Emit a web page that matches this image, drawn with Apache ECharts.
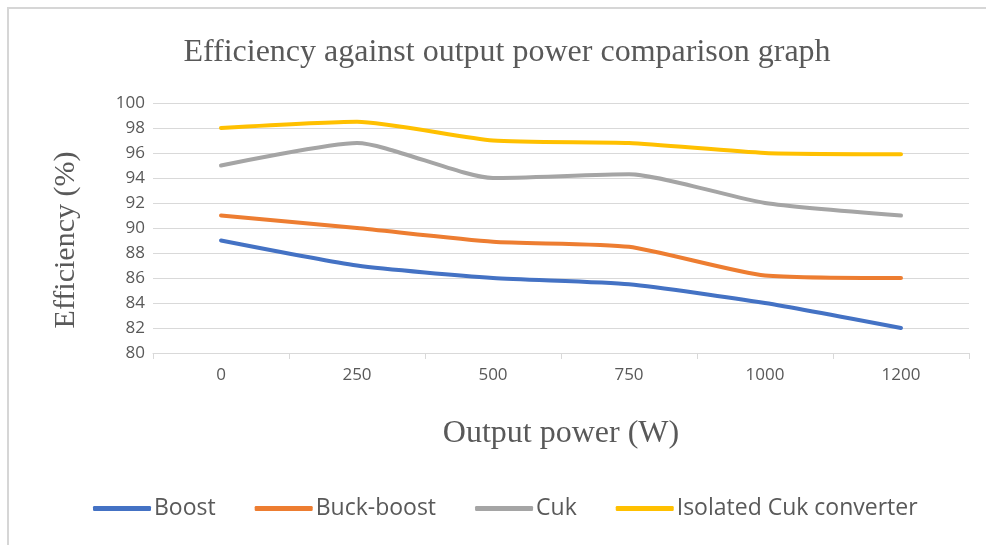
<!DOCTYPE html>
<html>
<head>
<meta charset="utf-8">
<title>Efficiency against output power</title>
<script src="https://cdn.jsdelivr.net/npm/echarts@6/dist/echarts.min.js"></script>
<style>
    html, body { margin: 0; padding: 0; background: #fff; }
    #frame {
        position: absolute; left: 7px; top: 7px; width: 990px; height: 540px;
        border-top: 2px solid #d6d6d6; border-left: 2px solid #d6d6d6;
    }
    #chart { position: absolute; left: 0; top: 0; width: 986px; height: 545px; }
</style>
</head>
<body>
<div id="frame"></div>
<div id="chart"></div>
<script>
// output power categories (W)
const categories = ['0', '250', '500', '750', '1000', '1200'];

// efficiency (%) per converter
const boost = [89, 87, 86, 85.5, 84, 82];
const buckBoost = [91, 90, 88.9, 88.5, 86.2, 86];
const cuk = [95, 96.8, 94, 94.3, 92, 91];
const isolatedCuk = [98, 98.5, 97, 96.8, 96, 95.9];

const seriesNames = ['Boost', 'Buck-boost', 'Cuk', 'Isolated Cuk converter'];
const seriesColors = ['#4472C4', '#ED7D31', '#A5A5A5', '#FFC000'];

const chart = echarts.init(document.getElementById('chart'));

function lineSeries(name, data, color) {
    return {
        name: name,
        type: 'line',
        data: data,
        smooth: 0.2,
        symbol: 'none',
        lineStyle: { color: color, width: 4, cap: 'round' },
        itemStyle: { color: color }
    };
}

const option = {
    backgroundColor: 'transparent',
    animation: false,
    title: {
        text: 'Efficiency against output power comparison graph',
        left: 502,
        textAlign: 'center',
        top: 32,
        textStyle: {
            fontFamily: 'Liberation Serif',
            fontWeight: 'normal',
            fontSize: 32,
            color: '#595959'
        }
    },
    legend: {
        bottom: 20,
        left: 88,
        itemWidth: 58,
        itemHeight: 5,
        itemGap: 39,
        icon: 'roundRect',
        data: seriesNames,
        textStyle: { fontFamily: 'Open Sans', fontSize: 23, color: '#595959', padding: [0, 0, 0, -2] }
    },
    grid: { left: 153, right: 17, top: 103, bottom: 192 },
    xAxis: {
        type: 'category',
        data: categories,
        boundaryGap: true,
        name: 'Output power (W)',
        nameLocation: 'middle',
        nameGap: 65,
        nameTextStyle: { fontFamily: 'Liberation Serif', fontSize: 32, color: '#595959' },
        axisLine: { lineStyle: { color: '#D9D9D9', width: 1 } },
        axisTick: { show: true, alignWithLabel: false, length: 6, lineStyle: { color: '#D9D9D9' } },
        axisLabel: { fontFamily: 'Open Sans', fontSize: 17, color: '#595959', margin: 14 }
    },
    yAxis: {
        type: 'value',
        min: 80,
        max: 100,
        interval: 2,
        name: 'Efficiency (%)',
        nameLocation: 'middle',
        nameGap: 72,
        nameTextStyle: { fontFamily: 'Liberation Serif', fontSize: 30, color: '#595959', padding: [0, 24, 0, 0] },
        axisLine: { show: false },
        axisTick: { show: false },
        splitLine: { lineStyle: { color: '#D9D9D9', width: 1 } },
        axisLabel: { fontFamily: 'Open Sans', fontSize: 17, color: '#595959', margin: 8 }
    },
    series: [
        lineSeries(seriesNames[0], boost, seriesColors[0]),
        lineSeries(seriesNames[1], buckBoost, seriesColors[1]),
        lineSeries(seriesNames[2], cuk, seriesColors[2]),
        lineSeries(seriesNames[3], isolatedCuk, seriesColors[3])
    ]
};

chart.setOption(option);
</script>
</body>
</html>
